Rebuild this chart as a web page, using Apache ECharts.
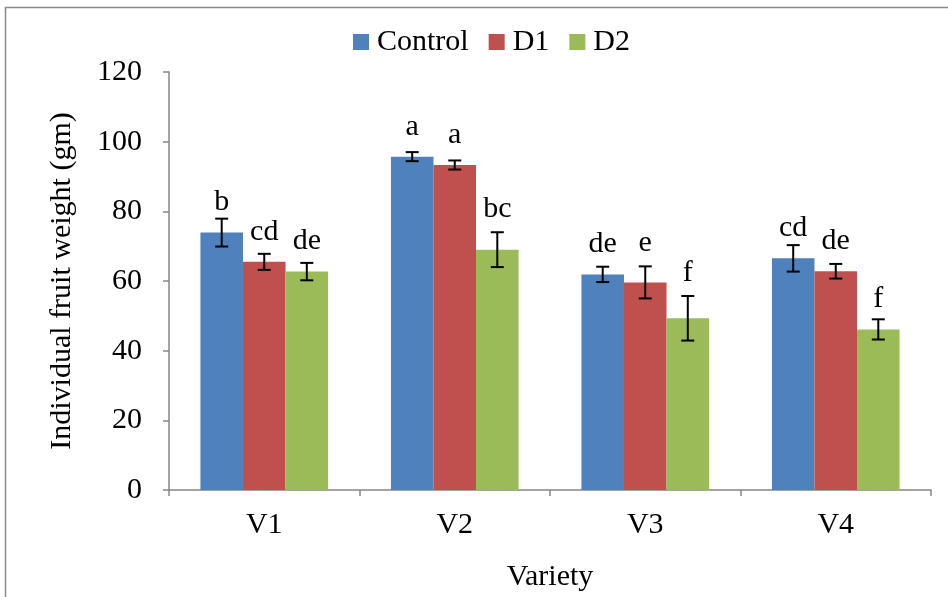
<!DOCTYPE html>
<html>
<head>
<meta charset="utf-8">
<style>html,body{margin:0;padding:0;background:#fff}#c{width:948px;height:597px}</style>
<script src="https://cdn.jsdelivr.net/npm/echarts@6/dist/echarts.min.js"></script>
</head>
<body>
<div id="c"></div>
<script>
const categories = ['V1', 'V2', 'V3', 'V4'];
const seriesNames = ['Control', 'D1', 'D2'];
const controlValues = [73.9, 95.7, 61.9, 66.5];
const d1Values = [65.5, 93.3, 59.6, 62.8];
const d2Values = [62.7, 69.0, 49.3, 46.1];
const controlErr = [4.0, 1.3, 2.2, 3.8];
const d1Err = [2.3, 1.3, 4.6, 2.1];
const d2Err = [2.5, 5.0, 6.4, 2.9];
const controlLetters = ['b', 'a', 'de', 'cd'];
const d1Letters = ['cd', 'a', 'e', 'de'];
const d2Letters = ['de', 'bc', 'f', 'f'];
const yTicks = { min: 0, max: 120, interval: 20 };

const colors = ['#4F81BD', '#C0504D', '#9BBB59'];
const FONT = '"Liberation Serif", "Times New Roman", serif';
const GAP = 0.33;

const allValues = [controlValues, d1Values, d2Values];
const allErr = [controlErr, d1Err, d2Err];
const allLetters = [controlLetters, d1Letters, d2Letters];

const errData = [];
allValues.forEach((vals, s) => {
  vals.forEach((v, i) => {
    errData.push({ value: [i, s, v, allErr[s][i]], letter: allLetters[s][i] });
  });
});

const chart = echarts.init(document.getElementById('c'));
chart.setOption({
  animation: false,
  color: colors,
  textStyle: { fontFamily: FONT, color: '#000' },
  graphic: [{
    type: 'rect', silent: true, z: -1,
    shape: { x: 5.5, y: 7.5, width: 1200, height: 1200 },
    style: { fill: 'none', stroke: '#8a8a8a', lineWidth: 1.5 }
  }],
  legend: {
    left: 348, top: 22,
    itemWidth: 16, itemHeight: 16, itemGap: 20,
    icon: 'rect',
    textStyle: { fontFamily: FONT, fontSize: 30, color: '#000', padding: [0, 0, 0, 3] },
    data: seriesNames
  },
  grid: { left: 169, right: 17, top: 72, bottom: 107 },
  xAxis: {
    type: 'category',
    data: categories,
    name: 'Variety',
    nameLocation: 'middle',
    nameGap: 72,
    nameTextStyle: { fontFamily: FONT, fontSize: 30, color: '#000' },
    axisLine: { lineStyle: { color: '#868686', width: 1.5 } },
    axisTick: { show: true, length: 6, lineStyle: { color: '#868686', width: 1.5 } },
    axisLabel: { fontFamily: FONT, fontSize: 30, color: '#000', margin: 20 }
  },
  yAxis: {
    type: 'value',
    min: yTicks.min, max: yTicks.max, interval: yTicks.interval,
    name: 'Individual fruit weight (gm)',
    nameLocation: 'middle',
    nameGap: 92,
    nameTextStyle: { fontFamily: FONT, fontSize: 30, color: '#000' },
    splitLine: { show: false },
    axisLine: { show: true, lineStyle: { color: '#868686', width: 1.5 } },
    axisTick: { show: true, length: 6, lineStyle: { color: '#868686', width: 1.5 } },
    axisLabel: { fontFamily: FONT, fontSize: 30, color: '#000', margin: 27 }
  },
  series: [
    ...seriesNames.map((name, s) => ({
      name, type: 'bar', data: allValues[s],
      barGap: '0%', barCategoryGap: (GAP * 100) + '%',
      itemStyle: { color: colors[s] }
    })),
    {
      type: 'custom',
      name: 'err',
      data: errData,
      z: 10,
      renderItem: function (params, api) {
        const cat = api.value(0), s = api.value(1), v = api.value(2), e = api.value(3);
        const band = api.size([1, 0])[0];
        const barW = band * (1 - GAP) / 3;
        const cx = api.coord([cat, 0])[0] + (s - 1) * barW;
        const yTop = api.coord([cat, v])[1];
        const yHi = api.coord([cat, v + e])[1];
        const yLo = api.coord([cat, v - e])[1];
        const cap = 6.5;
        const base = (yTop - yHi > 15) ? yHi - 13 : Math.min(yTop - 20, yHi - 5);
        const ls = { stroke: '#000', lineWidth: 2 };
        return {
          type: 'group',
          children: [
            { type: 'line', shape: { x1: cx, y1: yHi, x2: cx, y2: yLo }, style: ls },
            { type: 'line', shape: { x1: cx - cap, y1: yHi, x2: cx + cap, y2: yHi }, style: ls },
            { type: 'line', shape: { x1: cx - cap, y1: yLo, x2: cx + cap, y2: yLo }, style: ls },
            { type: 'text', style: {
                text: errData[params.dataIndex].letter,
                x: cx, y: base + 5,
                align: 'center', verticalAlign: 'bottom',
                fontFamily: FONT, fontSize: 30, fill: '#000'
            } }
          ]
        };
      }
    }
  ]
});
</script>
</body>
</html>
